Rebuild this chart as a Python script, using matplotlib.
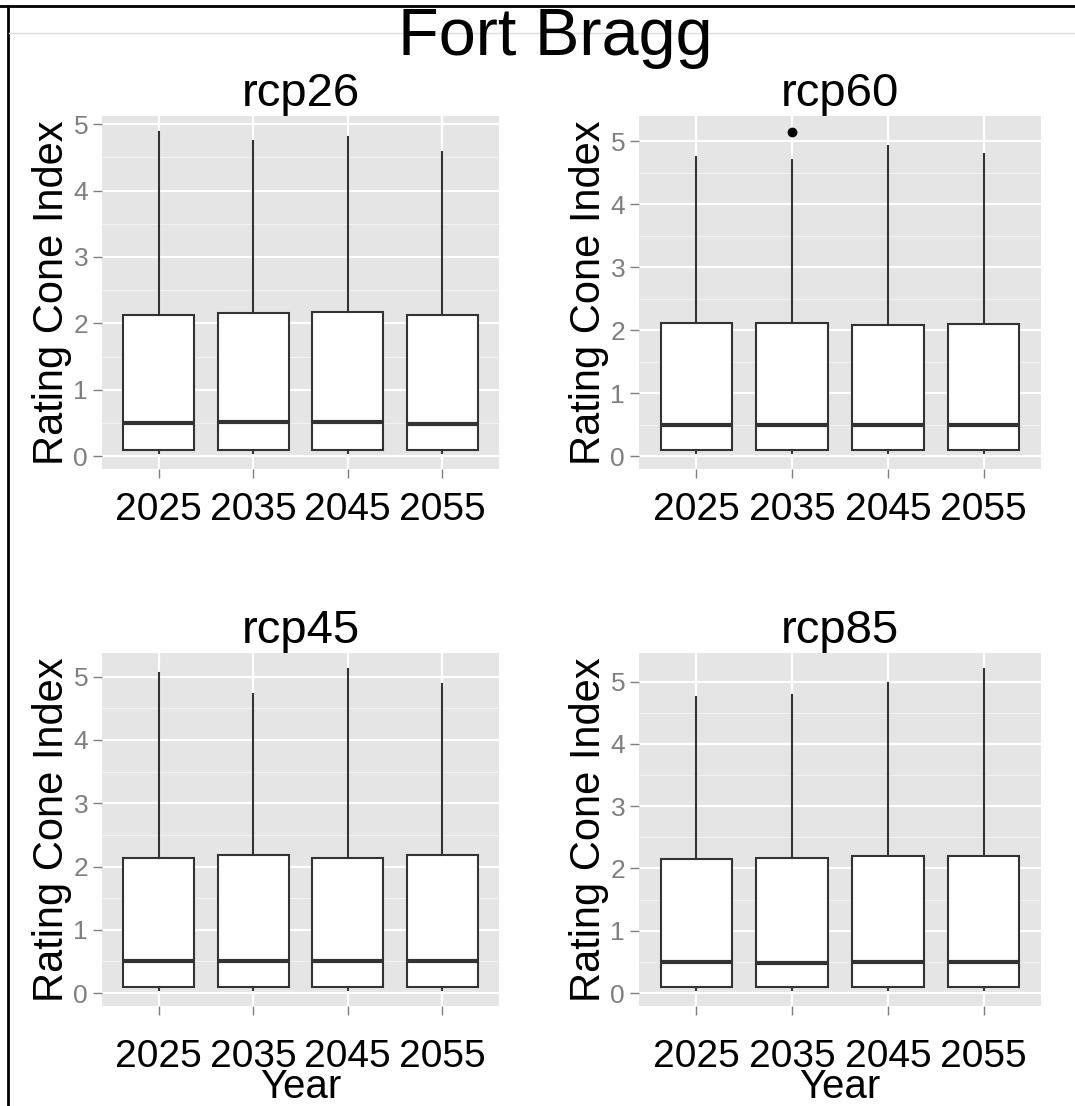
import matplotlib
matplotlib.use("Agg")
import matplotlib.pyplot as plt
from matplotlib.lines import Line2D

plt.rcParams["font.family"] = ["Liberation Sans", "DejaVu Sans"]

years = ["2025", "2035", "2045", "2055"]

# box statistics, one value per year
rcp26_low = [0.05, 0.05, 0.05, 0.05]
rcp26_q1 = [0.09, 0.09, 0.09, 0.09]
rcp26_med = [0.50, 0.51, 0.51, 0.49]
rcp26_q3 = [2.13, 2.15, 2.17, 2.12]
rcp26_high = [4.88, 4.75, 4.80, 4.58]
rcp26_out = [[], [], [], []]

rcp60_low = [0.05, 0.05, 0.05, 0.05]
rcp60_q1 = [0.09, 0.09, 0.09, 0.09]
rcp60_med = [0.50, 0.50, 0.49, 0.49]
rcp60_q3 = [2.11, 2.11, 2.08, 2.10]
rcp60_high = [4.75, 4.71, 4.93, 4.80]
rcp60_out = [[], [5.15], [], []]

rcp45_low = [0.05, 0.05, 0.05, 0.05]
rcp45_q1 = [0.09, 0.09, 0.09, 0.09]
rcp45_med = [0.51, 0.50, 0.51, 0.51]
rcp45_q3 = [2.14, 2.18, 2.14, 2.18]
rcp45_high = [5.05, 4.72, 5.12, 4.88]
rcp45_out = [[], [], [], []]

rcp85_low = [0.05, 0.05, 0.05, 0.05]
rcp85_q1 = [0.09, 0.09, 0.09, 0.09]
rcp85_med = [0.50, 0.49, 0.50, 0.50]
rcp85_q3 = [2.15, 2.16, 2.20, 2.20]
rcp85_high = [4.75, 4.78, 4.98, 5.20]
rcp85_out = [[], [], [], []]

panels = [
    ("rcp26", rcp26_low, rcp26_q1, rcp26_med, rcp26_q3, rcp26_high, rcp26_out),
    ("rcp60", rcp60_low, rcp60_q1, rcp60_med, rcp60_q3, rcp60_high, rcp60_out),
    ("rcp45", rcp45_low, rcp45_q1, rcp45_med, rcp45_q3, rcp45_high, rcp45_out),
    ("rcp85", rcp85_low, rcp85_q1, rcp85_med, rcp85_q3, rcp85_high, rcp85_out),
]

W, H = 1075, 1106
fig = plt.figure(figsize=(W / 100, H / 100), dpi=100)


def rect(l, t, r, b):
    return [l / W, 1 - b / H, (r - l) / W, (b - t) / H]


rects = [rect(102, 116, 499, 469), rect(639, 116, 1041, 469),
         rect(102, 653, 499, 1006), rect(639, 653, 1041, 1006)]

for i, (name, low, q1, med, q3, high, out) in enumerate(panels):
    ax = fig.add_axes(rects[i])
    ax.set_facecolor("#E5E5E5")
    stats = []
    for j in range(len(years)):
        stats.append({"whislo": low[j], "q1": q1[j], "med": med[j], "q3": q3[j],
                      "whishi": high[j], "fliers": out[j], "label": years[j]})
    ax.bxp(stats, positions=range(1, len(years) + 1), widths=0.75,
           showcaps=False, patch_artist=True,
           boxprops=dict(facecolor="white", edgecolor="#333333", linewidth=1.5),
           whiskerprops=dict(color="#333333", linewidth=1.5),
           medianprops=dict(color="#333333", linewidth=3),
           flierprops=dict(marker="o", markerfacecolor="black",
                           markeredgecolor="black", markersize=6))
    ax.set_xlim(0.4, len(years) + 0.6)
    lo = min(low)
    hi = max(high + [v for o in out for v in o])
    span = hi - lo
    ax.set_ylim(lo - 0.05 * span, hi + 0.05 * span)
    ax.set_yticks(range(6))
    ax.set_yticks([k + 0.5 for k in range(6) if k + 0.5 < hi + 0.05 * span], minor=True)
    ax.set_axisbelow(True)
    ax.grid(which="major", color="white", linewidth=1.6)
    ax.grid(which="minor", axis="y", color="#F2F2F2", linewidth=0.8)
    for s in ax.spines.values():
        s.set_visible(False)
    ax.tick_params(which="minor", length=0)
    ax.tick_params(axis="y", labelsize=19, labelcolor="#7F7F7F", color="#7F7F7F",
                   length=6.5, width=1, pad=3.5)
    xpad = 10 if i < 2 else 17
    ax.tick_params(axis="x", labelsize=28, labelcolor="black", color="#7F7F7F",
                   length=6.5, width=1, pad=xpad)
    ax.set_title(name, fontsize=34, pad=7)
    ax.set_ylabel("Rating Cone Index", fontsize=30, labelpad=1)
    if i >= 2:
        ax.set_xlabel("Year", fontsize=29, labelpad=-5)

fig.text(0.517, 1 - 55 / H, "Fort Bragg", fontsize=48, ha="center", va="baseline")

# page border and faint rule
fig.add_artist(Line2D([0, 1], [1 - 6 / H, 1 - 6 / H], color="black", linewidth=2))
fig.add_artist(Line2D([8 / W, 8 / W], [0, 1 - 6 / H], color="black", linewidth=2))
fig.add_artist(Line2D([9 / W, 1], [1 - 33 / H, 1 - 33 / H], color="#DDDDDD", linewidth=1))

fig.savefig("out.png", dpi=100)
